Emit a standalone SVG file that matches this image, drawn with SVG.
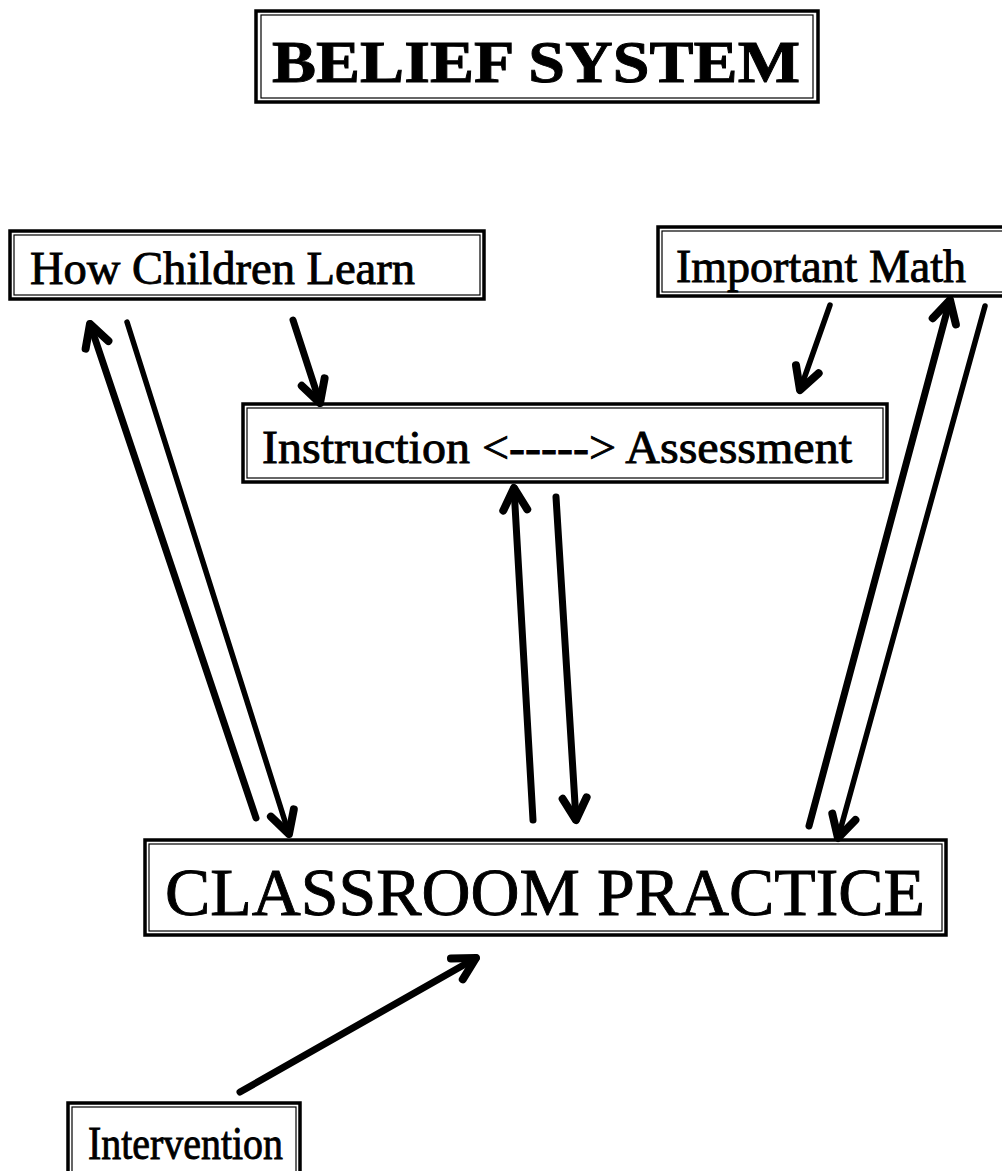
<svg xmlns="http://www.w3.org/2000/svg" width="1002" height="1171" viewBox="0 0 1002 1171">
<style>
.frame{fill:#fff;stroke:#000;stroke-width:3.5}
.inner{fill:none;stroke:#000;stroke-width:1.2}
.t{font-family:"Liberation Serif","Times New Roman",serif;fill:#000;stroke:#000;stroke-width:0.9}
.arr{fill:none;stroke:#000;stroke-width:7;stroke-linecap:round;stroke-linejoin:round;marker-end:url(#v)}
.thin{stroke-width:5.5}
</style>
<defs>
<marker id="v" markerUnits="userSpaceOnUse" markerWidth="40" markerHeight="40" refX="0" refY="0" orient="auto" overflow="visible">
<path d="M-22,-12 L0,0 L-22,12" fill="none" stroke="#000" stroke-width="8" stroke-linecap="round" stroke-linejoin="round"/>
</marker>
</defs>
<rect width="1002" height="1171" fill="#fff"/>
<g id="belief-system">
<rect class="frame" x="256" y="11" width="562" height="91"/>
<rect class="inner" x="261" y="15" width="552" height="83"/>
<text class="t" x="272" y="82" font-size="60" font-weight="bold" textLength="528" lengthAdjust="spacingAndGlyphs">BELIEF SYSTEM</text>
</g>
<g id="how-children-learn">
<rect class="frame" x="10" y="231" width="474" height="68"/>
<rect class="inner" x="14" y="235" width="466" height="60"/>
<text class="t" x="30" y="284" font-size="46" textLength="385" lengthAdjust="spacingAndGlyphs">How Children Learn</text>
</g>
<g id="important-math">
<rect class="frame" x="658" y="227" width="350" height="69"/>
<rect class="inner" x="662" y="231" width="346" height="61"/>
<text class="t" x="676" y="282" font-size="46" textLength="290" lengthAdjust="spacingAndGlyphs">Important Math</text>
</g>
<g id="instruction-assessment">
<rect class="frame" x="243" y="404" width="644" height="78"/>
<rect class="inner" x="247" y="408" width="636" height="70"/>
<text class="t" x="262" y="463" font-size="46" textLength="590" lengthAdjust="spacingAndGlyphs">Instruction &lt;-----&gt; Assessment</text>
</g>
<g id="classroom-practice">
<rect class="frame" x="145" y="840" width="801" height="95"/>
<rect class="inner" x="149" y="844" width="793" height="87"/>
<text class="t" x="165" y="915" font-size="68" textLength="760" lengthAdjust="spacingAndGlyphs">CLASSROOM PRACTICE</text>
</g>
<g id="intervention">
<rect class="frame" x="68" y="1103" width="232" height="80"/>
<rect class="inner" x="72" y="1107" width="224" height="80"/>
<text class="t" x="88" y="1159" font-size="46" textLength="195" lengthAdjust="spacingAndGlyphs">Intervention</text>
</g>
<g id="connectors">
<path class="arr" d="M256,818 L90,324"/>
<path class="arr thin" d="M127,322 L289,834"/>
<path class="arr" d="M293,320 L320,403"/>
<path class="arr thin" d="M830,305 L800,390"/>
<path class="arr" d="M533,820 L514,488"/>
<path class="arr" d="M556,497 L576,820"/>
<path class="arr" d="M809,826 L950,300"/>
<path class="arr thin" d="M985,306 L838,838"/>
<path class="arr" d="M240,1092 L476,958"/>
</g>
</svg>
